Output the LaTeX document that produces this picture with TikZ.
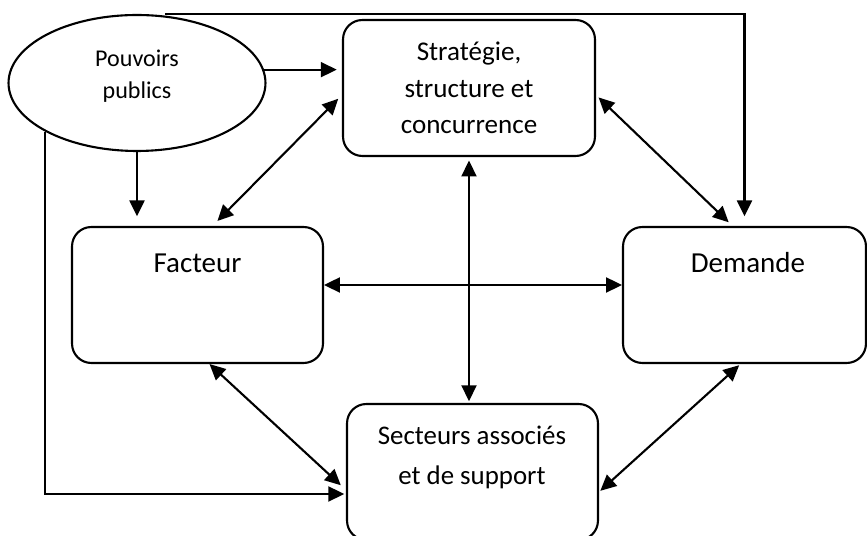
\documentclass[tikz,border=0pt]{standalone}
\usepackage{fontspec}
\setmainfont{Carlito}
\usetikzlibrary{shapes.geometric, arrows.meta, calc}

\begin{document}
\begin{tikzpicture}[x=0.02cm, y=-0.02cm, line width=1.2pt,
        bloc/.style={draw, rounded corners=11pt, inner sep=0pt, minimum width=5.02cm, minimum height=2.72cm, align=center},
        fleche/.style={-{Triangle[length=9pt, width=8.5pt]}},
        lien/.style={{Triangle[length=9pt, width=8.5pt]}-{Triangle[length=9pt, width=8.5pt]}}]

        \useasboundingbox (0, 0) rectangle (867, 536);

        \node[draw, ellipse, minimum width=5.14cm, minimum height=2.72cm, inner sep=0pt, align=center,
            font=\fontsize{13.7}{18}\selectfont] (pp) at (137, 83) {Pouvoirs\\publics\\[-8pt]};

        \node[bloc, minimum width=5.04cm, font=\fontsize{15.4}{20.8}\selectfont] (strat) at (469, 88)
            {Stratégie,\\structure et\\concurrence};
        \node[bloc] (fact) at (197.5, 295) {};
        \node[bloc, minimum width=4.86cm] (dem) at (744.5, 295) {};
        \node[bloc] (sect) at (472.5, 472) {};

        \node[font=\fontsize{16.5}{19}\selectfont] (factlbl) at (197.5, 263) {Facteur};
        \node[font=\fontsize{16.5}{19}\selectfont] (demlbl) at (748, 263) {Demande};
        \node[font=\fontsize{15.3}{22.8}\selectfont, align=center] (sectlbl) at (472, 457)
            {Secteurs associés\\et de support};

        % influence des pouvoirs publics
        \draw[fleche, shorten >=3pt] (pp.6) -- (pp.6 -| strat.west);
        \draw[fleche, shorten >=5.5pt] (pp.south) -- (pp.south |- fact.north);
        \draw[fleche, shorten >=5.5pt] ($(pp.north)+(28, 0)$) -| (dem.north);
        \draw[fleche, shorten >=1pt] (pp.south west) |- ($(sect.west)+(0, 22)$);

        % le losange
        \draw[lien, shorten <=4pt, shorten >=3pt] ($(fact.north)+(15, 0)$) -- ($(strat.west)+(0, 7)$);
        \draw[lien, shorten <=2pt, shorten >=3pt] ($(strat.east)+(0, 7)$) -- ($(dem.north)+(-12, 0)$);
        \draw[lien] ($(fact.east)+(0, -10)$) -- ($(dem.west)+(0, -10)$);
        \draw[lien, shorten <=2pt, shorten >=1pt] (strat.south) -- (strat.south |- sect.north);
        \draw[lien, shorten >=4pt] ($(fact.south)+(12, 0)$) -- ($(sect.west)+(0, 18)$);
        \draw[lien, shorten <=1pt, shorten >=1pt] ($(sect.east)+(0, 20)$) -- ($(dem.south)+(-4, 0)$);
    \end{tikzpicture}
\end{document}
